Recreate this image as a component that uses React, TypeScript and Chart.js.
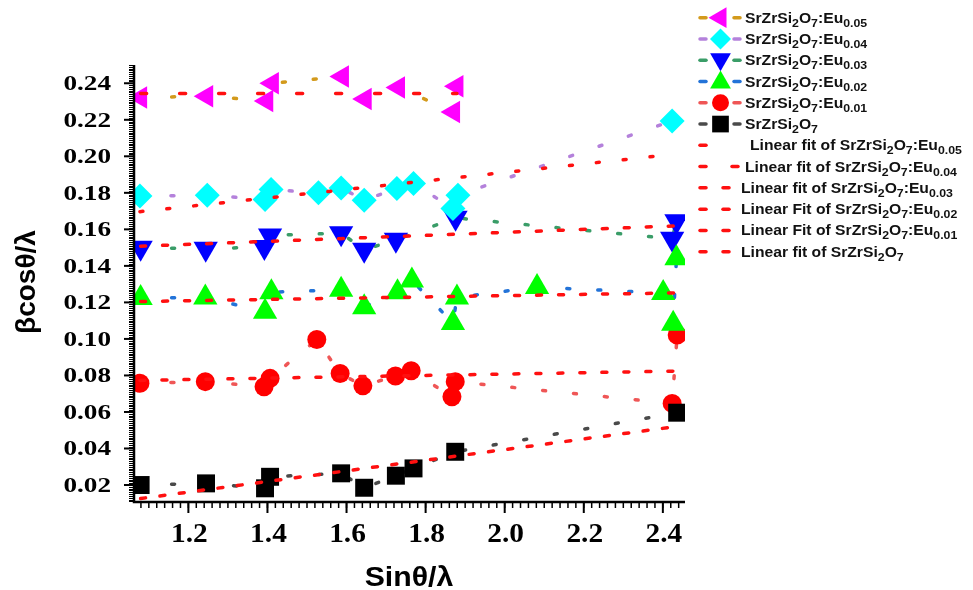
import React, { useEffect, useRef } from "react";
import { Chart, registerables } from "chart.js";

Chart.register(...registerables);

// ---------- axis ranges & ticks ----------
const X_MIN = 1.065;
const X_MAX = 2.456;
const Y_MIN = 0.0107;
const Y_MAX = 0.25;
const xTickValues = [1.2, 1.4, 1.6, 1.8, 2.0, 2.2, 2.4];
const xTickLabels = ["1.2", "1.4", "1.6", "1.8", "2.0", "2.2", "2.4"];
const yTickValues = [0.02, 0.04, 0.06, 0.08, 0.1, 0.12, 0.14, 0.16, 0.18, 0.2, 0.22, 0.24];
const yTickLabels = ["0.02", "0.04", "0.06", "0.08", "0.10", "0.12", "0.14", "0.16", "0.18", "0.20", "0.22", "0.24"];
const xMinorStep = 0.02;
const yMinorStep = 0.001;
const xTitle = "Sinθ/λ";
const yTitle = "βcosθ/λ";

// ---------- series data ----------
const eu005X = [1.0792, 1.2463, 1.3982, 1.4124, 1.5896, 1.6471, 1.7314, 1.8706, 1.8792];
const eu005Y = [0.2322, 0.2329, 0.2303, 0.24, 0.2437, 0.2314, 0.2377, 0.2243, 0.2383];

const eu004X = [1.0775, 1.2478, 1.3939, 1.4091, 1.5289, 1.5863, 1.6446, 1.7273, 1.7694, 1.8691, 1.8818, 2.4235];
const eu004Y = [0.1782, 0.1787, 0.1764, 0.1818, 0.18, 0.1827, 0.176, 0.1824, 0.1851, 0.1714, 0.1787, 0.2194];

const eu003X = [1.0792, 1.2438, 1.3922, 1.4066, 1.5863, 1.6446, 1.7248, 1.8757, 2.4235, 2.4344];
const eu003Y = [0.1499, 0.1494, 0.1503, 0.1567, 0.1579, 0.1488, 0.1543, 0.1663, 0.1548, 0.1645];

const eu002X = [1.0792, 1.2428, 1.3939, 1.4099, 1.5863, 1.6446, 1.7289, 1.7653, 1.8691, 1.8792, 2.0818, 2.4008, 2.4261, 2.4344];
const eu002Y = [0.1224, 0.1227, 0.1149, 0.1256, 0.1269, 0.1174, 0.1255, 0.132, 0.1087, 0.1227, 0.1284, 0.1251, 0.1083, 0.1442];

const eu001X = [1.0775, 1.2428, 1.3914, 1.4066, 1.5248, 1.5838, 1.6413, 1.7238, 1.7635, 1.8666, 1.8749, 2.4235, 2.4362];
const eu001Y = [0.0757, 0.0766, 0.0738, 0.0784, 0.0997, 0.0811, 0.0743, 0.0797, 0.0826, 0.0683, 0.0766, 0.0647, 0.1021];

const pureX = [1.0792, 1.2446, 1.3939, 1.4066, 1.5863, 1.6446, 1.7248, 1.7694, 1.8749, 2.4362];
const pureY = [0.02, 0.0209, 0.0182, 0.0245, 0.0264, 0.0185, 0.0251, 0.0291, 0.0382, 0.0596];

// ---------- linear fits (end points) ----------
const fit005X = [1.0792, 1.8792];
const fit005Y = [0.2344, 0.2344];
const fit004X = [1.0775, 2.4235];
const fit004Y = [0.1697, 0.201];
const fit003X = [1.0792, 2.4344];
const fit003Y = [0.1508, 0.1619];
const fit002X = [1.0792, 2.4344];
const fit002Y = [0.1205, 0.1252];
const fit001X = [1.0775, 2.4362];
const fit001Y = [0.0773, 0.0824];
const fitPureX = [1.0792, 2.4362];
const fitPureY = [0.0126, 0.0521];

// ---------- legend labels ----------
const seriesLabels = [
  "SrZrSi_2O_7:Eu_{0.05}",
  "SrZrSi_2O_7:Eu_{0.04}",
  "SrZrSi_2O_7:Eu_{0.03}",
  "SrZrSi_2O_7:Eu_{0.02}",
  "SrZrSi_2O_7:Eu_{0.01}",
  "SrZrSi_2O_7",
];
const fitLabels = [
  "Linear fit of SrZrSi_2O_7:Eu_{0.05}",
  "Linear fit of SrZrSi_2O_7:Eu_{0.04}",
  "Linear fit of SrZrSi_2O_7:Eu_{0.03}",
  "Linear Fit of SrZrSi_2O_7:Eu_{0.02}",
  "Linear Fit of SrZrSi_2O_7:Eu_{0.01}",
  "Linear fit of SrZrSi_2O_7",
];

// ---------- styles ----------
const lineColors = ["#d39a1c", "#b481db", "#3a9d68", "#2373d8", "#ef5656", "#4a4a4a"];
const markerColors = ["#ff00ff", "#00ffff", "#0000ff", "#00ff00", "#ff0000", "#000000"];
const markerStyles = ["triangle", "rectRot", "triangle", "triangle", "circle", "rect"];
const markerRadii = [13, 12.5, 14, 14, 9.5, 12.7];
const markerRotations = [-90, 0, 180, 0, 0, 0];
const markerOrders = [1, 2, 5, 4, 6, 3];
const legendMarkerRadii = [12, 10.5, 12, 12, 8.5, 11.8];
const fitDashes = [[6, 33], [3, 24], [5, 17], [5, 17], [5, 17], [5, 14.5]];
const FIT_COLOR = "#ff1010";

const seriesX = [eu005X, eu004X, eu003X, eu002X, eu001X, pureX];
const seriesY = [eu005Y, eu004Y, eu003Y, eu002Y, eu001Y, pureY];
const fitX = [fit005X, fit004X, fit003X, fit002X, fit001X, fitPureX];
const fitY = [fit005Y, fit004Y, fit003Y, fit002Y, fit001Y, fitPureY];

function toPoints(xs: number[], ys: number[]) {
  return xs.map((x, i) => ({ x, y: ys[i] }));
}

function buildDatasets() {
  const ds: any[] = [];
  for (let i = 0; i < 6; i++) {
    ds.push({
      label: seriesLabels[i],
      data: toPoints(seriesX[i], seriesY[i]),
      showLine: true,
      borderColor: lineColors[i],
      borderWidth: 3.5,
      borderDash: [3, 28],
      borderCapStyle: "round",
      pointStyle: markerStyles[i],
      pointRadius: markerRadii[i],
      pointRotation: markerRotations[i],
      pointBackgroundColor: markerColors[i],
      pointBorderColor: markerColors[i],
      pointBorderWidth: 0,
      clip: 0,
      order: markerOrders[i],
    });
  }
  for (let i = 0; i < 6; i++) {
    ds.push({
      label: fitLabels[i],
      data: toPoints(fitX[i], fitY[i]),
      showLine: true,
      borderColor: FIT_COLOR,
      borderWidth: 3.5,
      borderDash: fitDashes[i],
      borderCapStyle: "round",
      pointRadius: 0,
      clip: 0,
      order: 0,
    });
  }
  return ds;
}

// ---------- text helpers ----------
type Seg = { t: string; sub: boolean };
function parseRich(s: string): Seg[] {
  const segs: Seg[] = [];
  let buf = "";
  let i = 0;
  while (i < s.length) {
    if (s[i] === "_") {
      if (buf) {
        segs.push({ t: buf, sub: false });
        buf = "";
      }
      if (s[i + 1] === "{") {
        const j = s.indexOf("}", i);
        segs.push({ t: s.slice(i + 2, j), sub: true });
        i = j + 1;
      } else {
        segs.push({ t: s[i + 1], sub: true });
        i += 2;
      }
    } else {
      buf += s[i];
      i++;
    }
  }
  if (buf) segs.push({ t: buf, sub: false });
  return segs;
}

function stretchText(ctx: CanvasRenderingContext2D, text: string, x: number, y: number, font: string, sx: number, align: string) {
  ctx.save();
  ctx.font = font;
  ctx.textAlign = "left";
  const w = ctx.measureText(text).width * sx;
  let left = x;
  if (align === "center") left = x - w / 2;
  else if (align === "right") left = x - w;
  ctx.translate(left, y);
  ctx.scale(sx, 1);
  ctx.fillText(text, 0, 0);
  ctx.restore();
}

function richText(ctx: CanvasRenderingContext2D, s: string, x: number, baseY: number) {
  const mainFont = "bold 14px 'Liberation Sans', Arial, sans-serif";
  const subFont = "bold 11px 'Liberation Sans', Arial, sans-serif";
  const sx = 1.12;
  ctx.save();
  ctx.translate(x, baseY);
  ctx.scale(sx, 1);
  ctx.textAlign = "left";
  ctx.textBaseline = "alphabetic";
  let cx = 0;
  for (const seg of parseRich(s)) {
    ctx.font = seg.sub ? subFont : mainFont;
    ctx.fillText(seg.t, cx, seg.sub ? 4 : 0);
    cx += ctx.measureText(seg.t).width;
  }
  ctx.restore();
}

function drawMarker(ctx: CanvasRenderingContext2D, style: string, x: number, y: number, r: number, rotDeg: number, color: string) {
  let rad = (rotDeg * Math.PI) / 180;
  ctx.save();
  ctx.fillStyle = color;
  ctx.beginPath();
  if (style === "circle") {
    ctx.arc(x, y, r, 0, Math.PI * 2);
  } else if (style === "rect") {
    const s = Math.SQRT1_2 * r;
    ctx.rect(x - s, y - s, 2 * s, 2 * s);
  } else if (style === "rectRot") {
    ctx.moveTo(x - r, y);
    ctx.lineTo(x, y - r);
    ctx.lineTo(x + r, y);
    ctx.lineTo(x, y + r);
    ctx.closePath();
  } else {
    ctx.moveTo(x + Math.sin(rad) * r, y - Math.cos(rad) * r);
    rad += (2 * Math.PI) / 3;
    ctx.lineTo(x + Math.sin(rad) * r, y - Math.cos(rad) * r);
    rad += (2 * Math.PI) / 3;
    ctx.lineTo(x + Math.sin(rad) * r, y - Math.cos(rad) * r);
    ctx.closePath();
  }
  ctx.fill();
  ctx.restore();
}

function legendDot(ctx: CanvasRenderingContext2D, x: number, y: number, color: string, half: number) {
  ctx.save();
  ctx.strokeStyle = color;
  ctx.lineWidth = 3.5;
  ctx.lineCap = "round";
  ctx.beginPath();
  ctx.moveTo(x - half, y);
  ctx.lineTo(x + half, y);
  ctx.stroke();
  ctx.restore();
}

// ---------- plugins ----------
const axesPlugin = {
  id: "originAxes",
  afterDraw(chart: any) {
    const ctx: CanvasRenderingContext2D = chart.ctx;
    const xs = chart.scales.x;
    const ys = chart.scales.y;
    const area = chart.chartArea;
    ctx.save();
    ctx.strokeStyle = "#000";
    ctx.fillStyle = "#000";

    // minor ticks
    ctx.lineWidth = 1;
    for (let k = Math.ceil(Y_MIN / yMinorStep); k * yMinorStep <= Y_MAX + 1e-9; k++) {
      const py = Math.round(ys.getPixelForValue(k * yMinorStep)) + 0.5;
      ctx.beginPath();
      ctx.moveTo(area.left - 6, py);
      ctx.lineTo(area.left, py);
      ctx.stroke();
    }
    ctx.lineWidth = 1.5;
    for (let k = Math.ceil(X_MIN / xMinorStep); k * xMinorStep <= X_MAX + 1e-9; k++) {
      const px = xs.getPixelForValue(k * xMinorStep);
      ctx.beginPath();
      ctx.moveTo(px, area.bottom);
      ctx.lineTo(px, area.bottom + 6);
      ctx.stroke();
    }
    // major ticks
    ctx.lineWidth = 2;
    yTickValues.forEach((v) => {
      const py = ys.getPixelForValue(v);
      ctx.beginPath();
      ctx.moveTo(area.left - 11, py);
      ctx.lineTo(area.left, py);
      ctx.stroke();
    });
    xTickValues.forEach((v) => {
      const px = xs.getPixelForValue(v);
      ctx.beginPath();
      ctx.moveTo(px, area.bottom);
      ctx.lineTo(px, area.bottom + 11);
      ctx.stroke();
    });
    // axis lines
    ctx.lineWidth = 2.5;
    ctx.beginPath();
    ctx.moveTo(area.left - 1, area.top);
    ctx.lineTo(area.left - 1, area.bottom + 1.25);
    ctx.moveTo(area.left - 2.25, area.bottom);
    ctx.lineTo(area.right, area.bottom);
    ctx.stroke();

    // tick labels
    ctx.textBaseline = "alphabetic";
    yTickValues.forEach((v, i) => {
      const py = ys.getPixelForValue(v);
      stretchText(ctx, yTickLabels[i], area.left - 24, py + 6.8, "bold 20px 'Liberation Serif', 'Times New Roman', serif", 1.36, "right");
    });
    xTickValues.forEach((v, i) => {
      const px = xs.getPixelForValue(v);
      stretchText(ctx, xTickLabels[i], px + 1, area.bottom + 40, "bold 28px 'Liberation Serif', 'Times New Roman', serif", 1.05, "center");
    });

    // axis titles
    stretchText(ctx, xTitle, (area.left + area.right) / 2 - 1, 586, "bold 28px 'Liberation Sans', Arial, sans-serif", 1.08, "center");
    ctx.save();
    ctx.translate(27, 282);
    ctx.rotate(-Math.PI / 2);
    ctx.font = "bold 28px 'Liberation Sans', Arial, sans-serif";
    ctx.textAlign = "center";
    ctx.textBaseline = "middle";
    ctx.fillText(yTitle, 0, 0);
    ctx.restore();

    ctx.restore();
  },
};

const legendPlugin = {
  id: "originLegend",
  afterDraw(chart: any) {
    const ctx: CanvasRenderingContext2D = chart.ctx;
    const rowY = (i: number) => 17.7 + i * 21.27;
    ctx.save();
    ctx.fillStyle = "#111";
    for (let i = 0; i < 6; i++) {
      const y = rowY(i);
      legendDot(ctx, 703, y, lineColors[i], 3);
      legendDot(ctx, 737, y, lineColors[i], 3);
      let my = y;
      const r = legendMarkerRadii[i];
      if (markerStyles[i] === "triangle" && markerRotations[i] === 180) my = y - 1;
      if (markerStyles[i] === "triangle" && markerRotations[i] === 0) my = y + 1;
      drawMarker(ctx, markerStyles[i], 720.5, my, r, markerRotations[i], markerColors[i]);
      ctx.fillStyle = "#111";
      richText(ctx, seriesLabels[i], 745, y + 5);
    }
    const fitTextX = [750, 745, 741, 741, 741, 741];
    const fitSecondDash = [0, 735, 726, 726, 726, 726];
    for (let i = 0; i < 6; i++) {
      const y = rowY(6 + i);
      legendDot(ctx, 703, y, FIT_COLOR, 3);
      if (fitSecondDash[i]) legendDot(ctx, fitSecondDash[i], y, FIT_COLOR, 3);
      ctx.fillStyle = "#111";
      richText(ctx, fitLabels[i], fitTextX[i], y + 5);
    }
    ctx.restore();
  },
};

export default function App() {
  const canvasRef = useRef<HTMLCanvasElement>(null);

  useEffect(() => {
    const canvas = canvasRef.current;
    if (!canvas) return;
    const chart = new Chart(canvas, {
      type: "scatter",
      data: { datasets: buildDatasets() },
      options: {
        responsive: false,
        animation: false,
        devicePixelRatio: 1,
        events: [],
        layout: { padding: { left: 135, right: 288, top: 65, bottom: 88 } },
        plugins: { legend: { display: false }, tooltip: { enabled: false } },
        scales: {
          x: { type: "linear", min: X_MIN, max: X_MAX, display: false },
          y: { type: "linear", min: Y_MIN, max: Y_MAX, display: false },
        },
      } as any,
      plugins: [axesPlugin, legendPlugin],
    });
    return () => chart.destroy();
  }, []);

  return (
    <div style={{ position: "fixed", left: 0, top: 0, width: 973, height: 590, background: "#ffffff" }}>
      <canvas ref={canvasRef} width={973} height={590} style={{ display: "block", width: 973, height: 590 }} />
    </div>
  );
}
